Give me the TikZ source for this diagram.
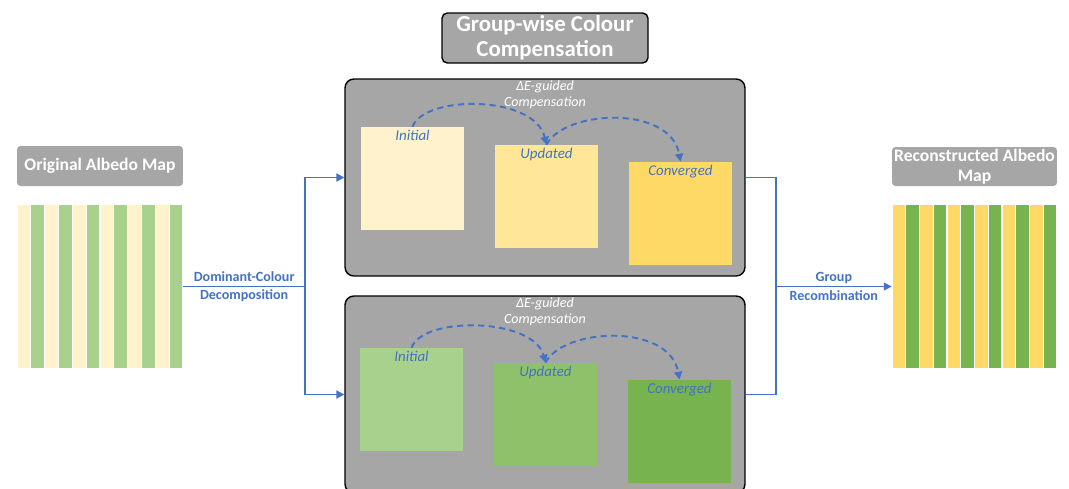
\documentclass[tikz,border=0pt]{standalone}
\usepackage{fontspec}
\setmainfont{Carlito}
\usetikzlibrary{arrows.meta, positioning, calc}

\definecolor{boxgray}{HTML}{A6A6A6}
\definecolor{linkblue}{HTML}{4472C4}
\definecolor{creamA}{HTML}{FFF2CC}
\definecolor{creamB}{HTML}{FFE699}
\definecolor{creamC}{HTML}{FFD966}
\definecolor{leafA}{HTML}{A9D18E}
\definecolor{leafB}{HTML}{8FC16B}
\definecolor{leafC}{HTML}{77B34F}

\tikzset{
  tagbox/.style={fill=boxgray, rounded corners=2pt, text=white, align=center, inner sep=0pt,
    font=\fontsize{10}{11.5}\selectfont\bfseries},
  panel/.style={draw=black, thick, fill=boxgray, rounded corners=5pt, minimum width=8cm, minimum height=3.94cm},
  patch/.style={minimum width=2.06cm, minimum height=2.06cm, inner sep=0pt},
  stage/.style={text=linkblue, font=\fontsize{8.5}{10}\selectfont\itshape, inner sep=2pt, anchor=north},
  guide/.style={text=white, font=\fontsize{8}{9.5}\selectfont\itshape, align=center, inner sep=1pt, anchor=north},
  flow/.style={draw=linkblue, line width=1.1pt},
  tip/.style={-{Triangle[length=4.5pt,width=4.5pt]}},
  hop/.style={draw=linkblue, line width=1.1pt, dash pattern=on 3.5pt off 2.5pt, tip},
  linklabel/.style={text=linkblue, font=\fontsize{8}{10.5}\selectfont\bfseries, align=center},
}

\begin{document}
\begin{tikzpicture}[x=0.02cm, y=-0.02cm]
    % Canvas in pixels of the original figure (y downwards)
    \useasboundingbox (0,0) rectangle (1069,488);
    \def\sw{13.833}  % stripe width

    % Title
    \node[tagbox, draw=black, thick, rounded corners=3pt, minimum width=4.12cm, minimum height=1cm,
      font=\fontsize{13}{14}\selectfont\bfseries] (title) at (545,38) {Group-wise Colour\\Compensation};

    % Input albedo map
    \node[tagbox, minimum width=3.32cm, minimum height=0.8cm] (origtag) at (100,166) {Original Albedo Map};
    \node[patch, minimum width=3.32cm, minimum height=3.3cm] (orig) at (100,286.5) {};
    \foreach \i in {0,2,...,10} {
        \filldraw[fill=creamA, draw=white, line width=0.6pt] ({17+\i*\sw},204) rectangle ++(\sw,165);
        \filldraw[fill=leafA, draw=white, line width=0.6pt] ({17+(\i+1)*\sw},204) rectangle ++(\sw,165);
    }

    % Reconstructed albedo map
    \node[tagbox, minimum width=3.3cm, minimum height=0.78cm] (recontag) at (974.5,166.5) {Reconstructed Albedo\\Map};
    \node[patch, minimum width=3.3cm, minimum height=3.3cm] (recon) at (974.5,286.5) {};
    \foreach \i in {0,2,...,10} {
        \filldraw[fill=creamC, draw=white, line width=0.6pt] ({892+\i*13.75},204) rectangle ++(13.75,165);
        \filldraw[fill=leafC, draw=white, line width=0.6pt] ({892+(\i+1)*13.75},204) rectangle ++(13.75,165);
    }

    % Two compensation panels (the lower one runs off the bottom edge)
    \node[panel] (toppanel) at (545,177.5) {};
    \node[panel] (botpanel) at (545,394.5) {};
    \node[guide] (guideT) at (toppanel.north) {ΔE-guided\\Compensation};
    \node[guide] (guideB) at (botpanel.north) {ΔE-guided\\Compensation};

    % Yellow group
    \node[patch, fill=creamA] (iniT) at (412.5,178.5) {};
    \node[patch, fill=creamB] (updT) at (546.5,196.5) {};
    \node[patch, fill=creamC] (conT) at (680.5,213.5) {};
    \node[stage] (iniTlbl) at (iniT.north) {Initial};
    \node[stage] (updTlbl) at (updT.north) {Updated};
    \node[stage] (conTlbl) at (conT.north) {Converged};

    % Green group
    \node[patch, fill=leafA] (iniB) at (411.5,399.5) {};
    \node[patch, fill=leafB] (updB) at (545.5,414.5) {};
    \node[patch, fill=leafC] (conB) at (679.5,431.5) {};
    \node[stage] (iniBlbl) at (iniB.north) {Initial};
    \node[stage] (updBlbl) at (updB.north) {Updated};
    \node[stage] (conBlbl) at (conB.north) {Converged};

    % Iteration hops
    \draw[hop] (iniT.north) .. controls +(12,-32) and +(-12,-50) .. (updT.north);
    \draw[hop] (updT.north) .. controls +(18,-35) and +(-10,-57) .. (conT.north);
    \draw[hop] (iniB.north) .. controls +(12,-32) and +(-12,-45) .. (updB.north);
    \draw[hop] (updB.north) .. controls +(18,-35) and +(-10,-57) .. (conB.north);

    % Split into groups and recombine
    \coordinate (split) at (305,286.5);
    \coordinate (join) at (776,286.5);
    \draw[flow] (orig.east) -- node[linklabel] (declbl) {Dominant-Colour\\Decomposition} (split);
    \draw[flow, tip] (split) |- (toppanel.west);
    \draw[flow, tip] (split) |- (botpanel.west);
    \draw[flow] (toppanel.east) -| (join) |- (botpanel.east);
    \draw[flow, tip] (join) -- node[linklabel] (reclbl) {Group\\Recombination} (recon.west);
\end{tikzpicture}
\end{document}
